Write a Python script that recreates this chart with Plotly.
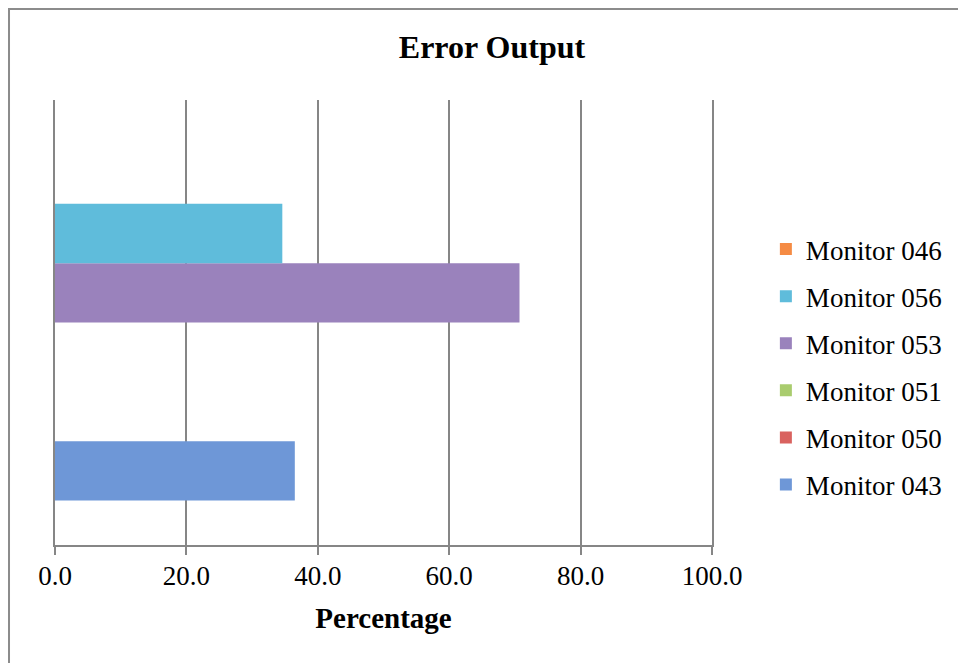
import plotly.graph_objects as go

# one category, six monitors (bottom to top in the group)
category = [""]
monitors = ["Monitor 043", "Monitor 050", "Monitor 051", "Monitor 053", "Monitor 056", "Monitor 046"]
values = [36.5, 0.0, 0.0, 70.7, 34.6, 0.0]
colors = ["#6E97D7", "#D9625F", "#A9CC6E", "#9A82BC", "#5FBCDB", "#F58B44"]

x_ticks = [0, 20, 40, 60, 80, 100]
x_labels = ["0.0", "20.0", "40.0", "60.0", "80.0", "100.0"]

FONT = "Liberation Serif"
GRID = "#868686"

fig = go.Figure()
for i, (name, val, col) in enumerate(zip(monitors, values, colors)):
    fig.add_trace(go.Bar(
        y=category, x=[val], orientation="h", name=name,
        marker=dict(color=col, line=dict(width=0)),
        legendgroup=name, legendrank=len(monitors) - i,
    ))

# page body adds an 8px offset, so margins are shifted to compensate
fig.update_layout(
    width=966, height=663,
    margin=dict(l=47, r=262, t=92, b=126),
    paper_bgcolor="white", plot_bgcolor="white",
    font=dict(family=FONT, size=27, color="black"),
    barmode="group", bargap=0.2, bargroupgap=0,
    title=dict(text="<b>Error Output</b>", font=dict(family=FONT, size=32, color="black"),
               x=484 / 966, xref="container", xanchor="center",
               y=1 - 39 / 663, yref="container", yanchor="middle"),
    legend=dict(x=1.082, xanchor="left", y=0.40, yanchor="middle",
                traceorder="grouped", tracegroupgap=9,
                font=dict(family=FONT, size=27), bgcolor="rgba(0,0,0,0)",
                itemwidth=30),
    shapes=[dict(type="rect", xref="paper", yref="paper",
                 x0=-0.070, x1=1.6, y0=-0.5, y1=1.2045,
                 line=dict(color="#8C8C8C", width=2), layer="below")],
)

fig.update_xaxes(
    range=[0, 100], tickvals=x_ticks, ticktext=x_labels,
    showgrid=True, gridcolor=GRID, gridwidth=2,
    showline=True, linecolor=GRID, linewidth=2,
    ticks="outside", ticklen=8, tickwidth=2, tickcolor=GRID,
    ticklabelstandoff=-2,
    zeroline=False,
    title=dict(text="<b>Percentage</b>", font=dict(family=FONT, size=29), standoff=17),
    tickfont=dict(family=FONT, size=27),
)
fig.update_yaxes(showticklabels=False, showgrid=False, zeroline=False,
                 showline=True, mirror=True, linecolor=GRID, linewidth=2)

fig.write_html("out.html")
